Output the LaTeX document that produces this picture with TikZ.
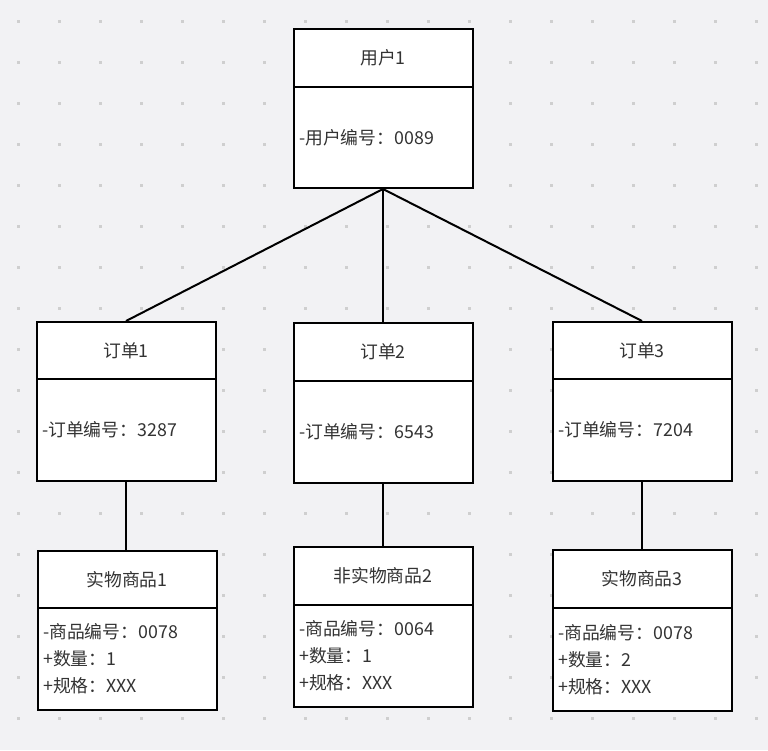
\documentclass[tikz,border=0pt]{standalone}
\usepackage{fontspec}
\setmainfont{Noto Sans CJK SC}
\usetikzlibrary{calc}
\definecolor{bg}{HTML}{F2F2F4}
\definecolor{dotc}{HTML}{CFCFCF}
\definecolor{txt}{HTML}{333333}
\tikzset{
  boxline/.style={draw=black, line width=2pt, fill=white, minimum width=179pt, inner sep=0pt},
  hdr/.style={boxline, text=txt, font=\fontsize{17.8}{27}\selectfont},
  bodyb/.style={boxline},
  bodyt/.style={text=txt, font=\fontsize{17.8}{27}\selectfont, align=left, inner sep=0pt, anchor=west},
  conn/.style={draw=black, line width=2pt},
}
% name, x-left, y-top, y-divider, y-bottom, title, body
\newcommand\umlbox[7]{%
  \node[hdr, minimum height={#4-#3}, anchor=north west] (#1h) at (#2,#3) {#6};
  \node[bodyb, minimum height={#5-#4}, anchor=north west] (#1b) at (#2,#4) {};
  \node[bodyt] (#1t) at ($(#1b.west)+(6.5,0)$) {#7};
}
\begin{document}
\begin{tikzpicture}[x=1pt,y=-1pt]
  \fill[bg] (0,0) rectangle (768,750);
  \useasboundingbox (0,0) rectangle (768,750);
  \foreach \i in {0,...,18} {
    \foreach \j in {0,...,17} {
      \fill[dotc] ({18+41*\i-1.5},{21+41*\j-1.5}) rectangle ++(3,3);
    }
  }
  \umlbox{u1}{292.5}{28}{86}{187}{用户1}{-用户编号：0089}
  \umlbox{o1}{35.5}{321}{378}{480}{订单1}{-订单编号：3287}
  \umlbox{o2}{292.5}{322}{380}{482}{订单2}{-订单编号：6543}
  \umlbox{o3}{551.5}{321}{378}{480}{订单3}{-订单编号：7204}
  \umlbox{p1}{36.5}{550}{607}{709}{实物商品1}{-商品编号：0078\\+数量：1\\+规格：XXX}
  \umlbox{p2}{292.5}{546}{604}{706}{非实物商品2}{-商品编号：0064\\+数量：1\\+规格：XXX}
  \umlbox{p3}{551.5}{549}{607}{710}{实物商品3}{-商品编号：0078\\+数量：2\\+规格：XXX}
  \draw[conn] (u1b.south) -- (o1h.north);
  \draw[conn] (u1b.south) -- (o2h.north);
  \draw[conn] (u1b.south) -- (o3h.north);
  \draw[conn] (o1b.south) -- (o1b.south |- p1h.north);
  \draw[conn] (o2b.south) -- (p2h.north);
  \draw[conn] (o3b.south) -- (p3h.north);
\end{tikzpicture}
\end{document}
